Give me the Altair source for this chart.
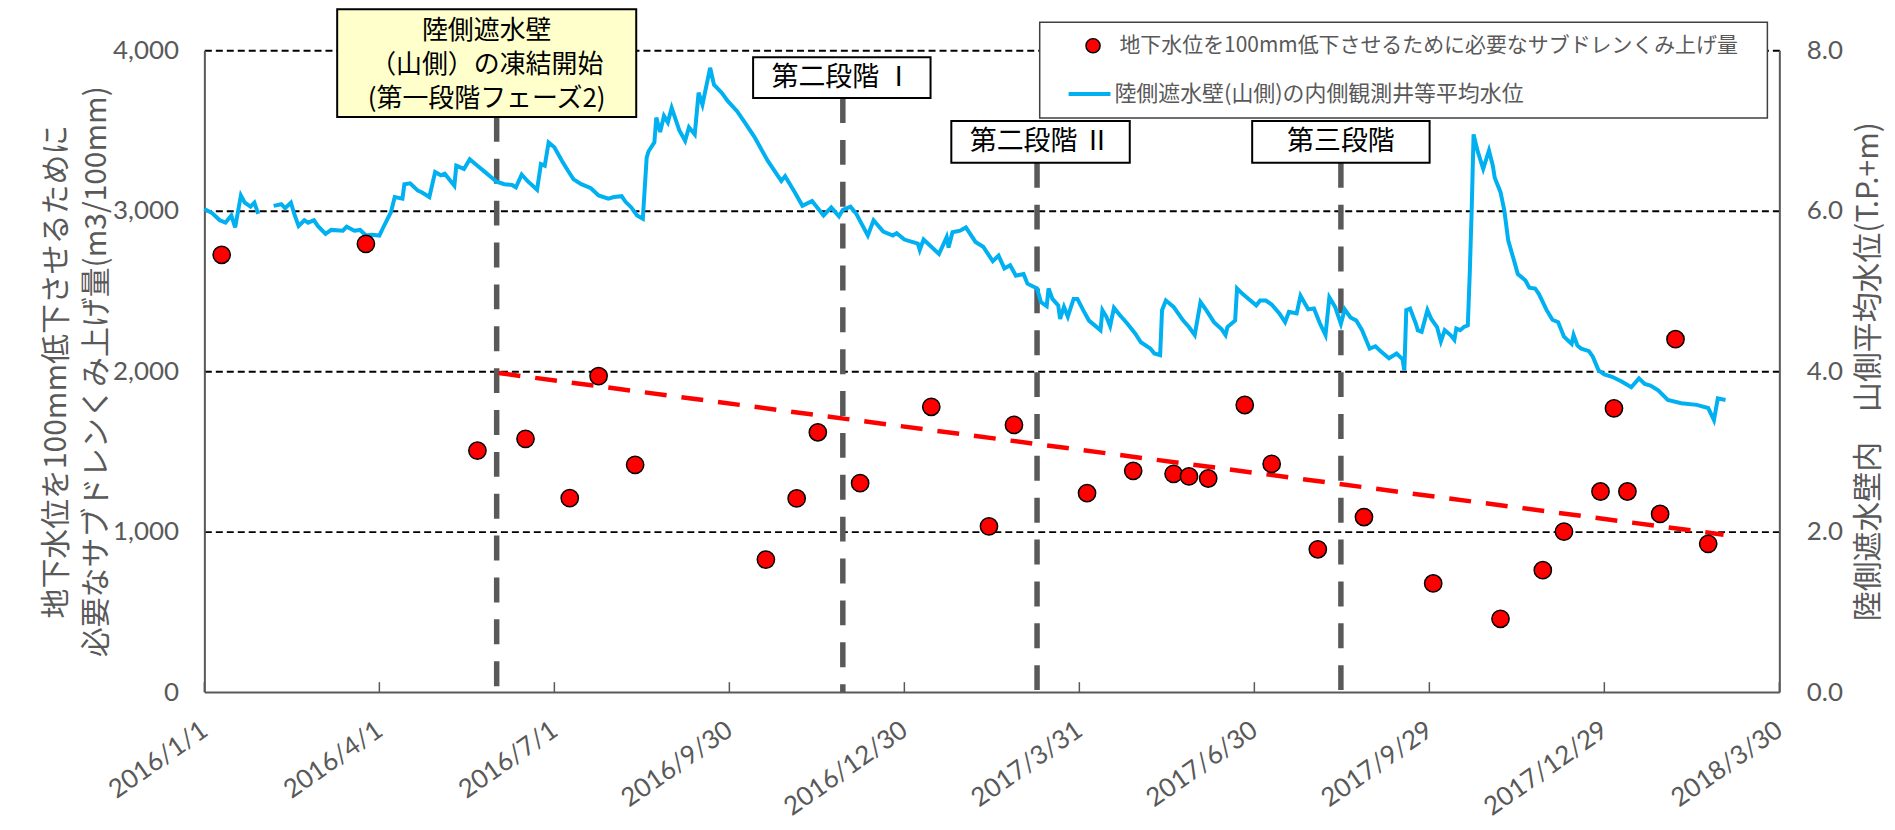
import altair as alt
import pandas as pd

# ---------------- data ----------------
BASE = pd.Timestamp("2016-01-01")

tick_dates = ["2016/01/01", "2016/04/01", "2016/07/01", "2016/09/30", "2016/12/30",
              "2017/03/31", "2017/06/30", "2017/09/29", "2017/12/29", "2018/03/30"]

PUMP_NAME = "地下水位を100mm低下させるために必要なサブドレンくみ上げ量"
LEVEL_NAME = "陸側遮水壁(山側)の内側観測井等平均水位"

# red dots: days since 2016/1/1 and m3/100mm
pump_day = [9, 84, 142, 167, 190, 205, 224, 292, 308, 319, 341, 378, 408, 421, 459, 483,
            504, 512, 522, 541, 555, 579, 603, 639, 674, 696, 707, 726, 733, 740, 757, 765, 782]
pump_value = [2725, 2793, 1505, 1578, 1209, 1969, 1416, 826, 1207, 1619, 1302, 1778, 1033, 1665,
              1240, 1379, 1360, 1344, 1331, 1789, 1422, 890, 1091, 677, 457, 760, 1000, 1250,
              1768, 1250, 1110, 2199, 924]

# blue line: days since 2016/1/1 and T.P.+m
level_day = [
    0, 4, 8, 11, 14, 16, 19, 21, 24, 26,
    28, 36, 40, 42, 45, 47, 49, 52, 54, 57,
    59, 63, 66, 72, 74, 78, 81, 84, 87, 91,
    93, 97, 99, 103, 104, 107, 111, 113, 117, 120,
    123, 125, 130, 131, 135, 138, 142, 146, 149, 152,
    156, 160, 162, 165, 168, 173, 175, 177, 179, 182,
    186, 189, 192, 196, 201, 205, 210, 213, 217, 219,
    222, 225, 228, 230, 231, 234, 235, 237, 239, 241,
    243, 247, 250, 252, 255, 257, 259, 263, 265, 269,
    272, 277, 281, 286, 293, 300, 302, 307, 311, 316,
    322, 326, 330, 332, 336, 339, 345, 348, 353, 358,
    360, 364, 371, 372, 374, 382, 386, 387, 389, 393,
    396, 401, 405, 410, 413, 416, 419, 422, 426, 428,
    433, 435, 438, 439, 441, 444, 445, 447, 449, 452,
    454, 457, 460, 463, 466, 467, 469, 471, 473, 476,
    480, 484, 487, 492, 494, 497, 498, 500, 504, 509,
    512, 515, 518, 521, 525, 529, 531, 532, 536, 537,
    540, 543, 547, 549, 552, 555, 559, 562, 564, 568,
    570, 574, 577, 580, 583, 585, 588, 591, 593, 596,
    599, 602, 606, 609, 612, 616, 620, 623, 624, 625,
    627, 630, 631, 633, 636, 638, 641, 643, 645, 648,
    650, 651, 653, 655, 657, 658, 659, 660, 662, 665,
    668, 670, 671, 674, 676, 678, 681, 683, 687, 689,
    692, 694, 698, 701, 704, 707, 711, 712, 714, 716,
    720, 722, 725, 728, 732, 737, 742, 746, 749, 752,
    756, 761, 768, 776, 782, 785, 787, 791,
]
level_value = [
    6.02, 5.97, 5.88, 5.85, 5.94, 5.79, 6.19, 6.10, 6.05, 6.10,
    5.96, 6.06, 6.08, 6.03, 6.10, 5.94, 5.81, 5.88, 5.85, 5.88,
    5.81, 5.71, 5.76, 5.75, 5.80, 5.75, 5.76, 5.69, 5.70, 5.69,
    5.79, 5.98, 6.17, 6.15, 6.33, 6.34, 6.25, 6.23, 6.17, 6.48,
    6.44, 6.46, 6.31, 6.56, 6.52, 6.64, 6.56, 6.48, 6.42, 6.36,
    6.33, 6.32, 6.29, 6.45, 6.37, 6.26, 6.58, 6.56, 6.85, 6.79,
    6.62, 6.50, 6.39, 6.33, 6.28, 6.19, 6.15, 6.17, 6.18, 6.11,
    6.04, 5.94, 5.90, 6.66, 6.74, 6.85, 7.16, 6.98, 7.18, 7.10,
    7.28, 7.00, 6.87, 7.04, 6.95, 7.47, 7.32, 7.78, 7.57, 7.47,
    7.37, 7.24, 7.10, 6.92, 6.62, 6.37, 6.43, 6.23, 6.06, 6.12,
    5.94, 6.04, 5.93, 6.01, 6.05, 5.96, 5.69, 5.88, 5.74, 5.69,
    5.72, 5.64, 5.59, 5.51, 5.64, 5.46, 5.67, 5.54, 5.73, 5.75,
    5.79, 5.61, 5.55, 5.37, 5.44, 5.28, 5.32, 5.19, 5.21, 5.09,
    5.03, 4.86, 4.81, 5.03, 4.90, 4.82, 4.65, 4.80, 4.68, 4.90,
    4.90, 4.76, 4.63, 4.57, 4.51, 4.76, 4.68, 4.56, 4.79, 4.70,
    4.59, 4.47, 4.36, 4.28, 4.22, 4.20, 4.76, 4.88, 4.80, 4.63,
    4.55, 4.45, 4.86, 4.76, 4.61, 4.52, 4.45, 4.55, 4.63, 5.03,
    4.96, 4.90, 4.82, 4.88, 4.88, 4.83, 4.72, 4.61, 4.74, 4.72,
    4.94, 4.77, 4.78, 4.60, 4.45, 4.92, 4.80, 4.59, 4.77, 4.67,
    4.63, 4.51, 4.28, 4.31, 4.24, 4.16, 4.22, 4.15, 4.01, 4.76,
    4.78, 4.59, 4.51, 4.49, 4.76, 4.65, 4.55, 4.37, 4.51, 4.45,
    4.39, 4.53, 4.51, 4.55, 4.57, 5.21, 6.00, 6.95, 6.75, 6.52,
    6.75, 6.56, 6.41, 6.23, 6.00, 5.63, 5.38, 5.21, 5.13, 5.04,
    5.03, 4.96, 4.76, 4.64, 4.61, 4.43, 4.34, 4.45, 4.32, 4.28,
    4.25, 4.18, 4.01, 3.96, 3.93, 3.87, 3.80, 3.91, 3.84, 3.82,
    3.76, 3.64, 3.60, 3.58, 3.54, 3.39, 3.66, 3.64,
]
level_gap_after = 28  # the line has a gap between day 28 and day 36

# red dashed trend line
trend_day = [153, 790]
trend_value = [1988, 981]

# phase markers
phase_day = [152, 332, 433, 591]
phase_label = ["陸側遮水壁\n（山側）の凍結開始\n(第一段階フェーズ2)", "第二段階 Ⅰ", "第二段階 Ⅱ", "第三段階"]

# ---------------- styling / layout ----------------
W, H = 1580, 644
GRAY = "#595959"
LATIN = "Lato"
CJK = "Noto Sans CJK JP"

PHASE_STYLE = [
    dict(left=-160, right=140, top=-41, bottom=67, text_y=-19, dx=-10, fill="#FFFFCC", size=26),
    dict(left=-90, right=88, top=7, bottom=48, text_y=27.5, dx=-1, fill="white", size=27),
    dict(left=-86, right=93, top=71, bottom=113, text_y=92, dx=3, fill="white", size=27),
    dict(left=-89, right=89, top=71, bottom=113, text_y=92, dx=0, fill="white", size=27),
]


def to_date(days):
    return [(BASE + pd.Timedelta(days=int(d))).strftime("%Y/%m/%d") for d in days]


def dt(s):
    y, m, d = s.split("/")
    return alt.DateTime(year=int(y), month=int(m), date=int(d))


X_SCALE = alt.Scale(domain=[dt(tick_dates[0]), dt(tick_dates[-1])], nice=False)
X_AXIS = alt.Axis(
    values=[dt(s) for s in tick_dates], format="%Y/%-m/%-d", title=None,
    labelAngle=325, labelAlign="right", labelBaseline="middle", labelPadding=35,
    labelFont=LATIN, labelFontSize=26, labelColor=GRAY, labelFlush=False, labelOverlap=False,
    ticks=False, tickSize=0, domainColor=GRAY, domainWidth=2, grid=False,
)


def xenc(field="date"):
    return alt.X(f"{field}:T", scale=X_SCALE, axis=X_AXIS)


pump_df = pd.DataFrame({"date": to_date(pump_day), "value": pump_value, "pump_series": PUMP_NAME})
level_df = pd.DataFrame({
    "date": to_date(level_day), "value": level_value, "level_series": LEVEL_NAME,
    "seg": [0 if d <= level_gap_after else 1 for d in level_day],
})
trend_df = pd.DataFrame({"date": to_date(trend_day), "value": trend_value})
phase_df = pd.DataFrame({"date": to_date(phase_day), "label": phase_label})
tick_df = pd.DataFrame({"date": tick_dates})

Y_LEFT_AXIS = alt.Axis(
    orient="left", values=[0, 1000, 2000, 3000, 4000], format=",.0f",
    labelFont=LATIN, labelFontSize=26, labelColor=GRAY, labelPadding=26,
    ticks=False, tickSize=0, domainColor=GRAY, domainWidth=2,
    grid=True, gridColor="black", gridDash=[7, 4], gridWidth=2,
    gridOpacity={"condition": {"test": "datum.value === 0", "value": 0}, "value": 1},
    title=["地下水位を100mm低下させるために", "必要なサブドレンくみ上げ量(m3/100mm)"],
    titleFont=CJK, titleFontSize=30, titleFontWeight="normal", titleColor=GRAY,
    titleAngle=270, titleAlign="center", titleBaseline="bottom",
    titleX=-133, titleY=H / 2, titleLineHeight=40,
)
Y_RIGHT_AXIS = alt.Axis(
    orient="right", values=[0, 2, 4, 6, 8], format=".1f",
    labelFont=LATIN, labelFontSize=26, labelColor=GRAY, labelPadding=27,
    ticks=False, tickSize=0, domainColor=GRAY, domainWidth=2, grid=False,
    title="陸側遮水壁内　山側平均水位(T.P.+m)",
    titleFont=CJK, titleFontSize=30, titleFontWeight="normal", titleColor=GRAY,
    titleAngle=270, titleAlign="center", titleBaseline="middle",
    titleX=89, titleY=H / 2,
)

layers = []

# phase dashed lines
for i, st in enumerate(PHASE_STYLE):
    row = phase_df.iloc[[i]]
    layers.append(
        alt.Chart(row).mark_rule(color=GRAY, strokeWidth=5.5, strokeDash=[25, 17]).encode(
            x=xenc(), y=alt.value(st["bottom"]), y2=alt.value(H)
        )
    )

line = alt.Chart(level_df).mark_line(strokeWidth=4).encode(
    x=xenc(),
    y=alt.Y("value:Q", scale=alt.Scale(domain=[0, 8], nice=False), axis=Y_RIGHT_AXIS),
    stroke=alt.Stroke(
        "level_series:N",
        scale=alt.Scale(domain=[LEVEL_NAME], range=["#00B0F0"]),
        legend=alt.Legend(
            orient="none", legendX=865, legendY=21, title=None, padding=0,
            symbolType="stroke", symbolSize=1764, symbolStrokeWidth=4,
            labelFont=CJK, labelFontSize=22, labelColor=GRAY, labelLimit=1200,
            labelOffset=2, zindex=1,
        ),
    ),
    detail="seg:N",
)
layers.append(line)

trend = alt.Chart(trend_df).mark_line(color="#FF0000", strokeWidth=4.5, strokeDash=[22, 15]).encode(
    x=xenc(),
    y=alt.Y("value:Q", scale=alt.Scale(domain=[0, 4000], nice=False), axis=None),
)
layers.append(trend)

dots = alt.Chart(pump_df).mark_circle(size=300, stroke="black", strokeWidth=1.5, opacity=1).encode(
    x=xenc(),
    y=alt.Y("value:Q", scale=alt.Scale(domain=[0, 4000], nice=False), axis=Y_LEFT_AXIS),
    fill=alt.Fill(
        "pump_series:N",
        scale=alt.Scale(domain=[PUMP_NAME], range=["#FF0000"]),
        legend=alt.Legend(
            orient="none", legendX=881, legendY=-15, title=None, padding=0,
            symbolType="circle", symbolSize=200, symbolStrokeColor="black", symbolStrokeWidth=1.5,
            labelFont=CJK, labelFontSize=21, labelColor=GRAY, labelLimit=1200,
            labelOffset=16, zindex=1,
        ),
    ),
)
layers.append(dots)

# phase boxes and labels
for i, st in enumerate(PHASE_STYLE):
    row = phase_df.iloc[[i]]
    layers.append(
        alt.Chart(row).mark_rect(
            fill=st["fill"], stroke="black", strokeWidth=2,
            xOffset=st["left"], x2Offset=st["right"],
        ).encode(x=xenc(), x2=alt.X2("date:T"), y=alt.value(st["top"]), y2=alt.value(st["bottom"]))
    )
    layers.append(
        alt.Chart(row).mark_text(
            font=CJK, fontSize=st["size"], color="black", align="center", baseline="middle",
            lineBreak="\n", lineHeight=34, dx=st["dx"],
        ).encode(x=xenc(), y=alt.value(st["text_y"]), text="label:N")
    )

# legend frame
layers.append(
    alt.Chart(pd.DataFrame({"k": [0]})).mark_rect(fill="white", stroke="#404040", strokeWidth=1.5).encode(
        x=alt.value(838), x2=alt.value(1568), y=alt.value(-28), y2=alt.value(68)
    )
)

# inward ticks on the x axis
layers.append(
    alt.Chart(tick_df).mark_rule(color=GRAY, strokeWidth=1.5).encode(
        x=xenc(), y=alt.value(H), y2=alt.value(H - 10)
    )
)

chart = (
    alt.layer(*layers)
    .resolve_scale(y="independent")
    .properties(
        width=W, height=H,
        autosize=alt.AutoSizeParams(type="none"),
        padding={"left": 197, "top": 41, "right": 108, "bottom": 128},
    )
    .configure_view(stroke=None)
)

chart.save("out.html", embed_options={"renderer": "svg", "actions": False})
